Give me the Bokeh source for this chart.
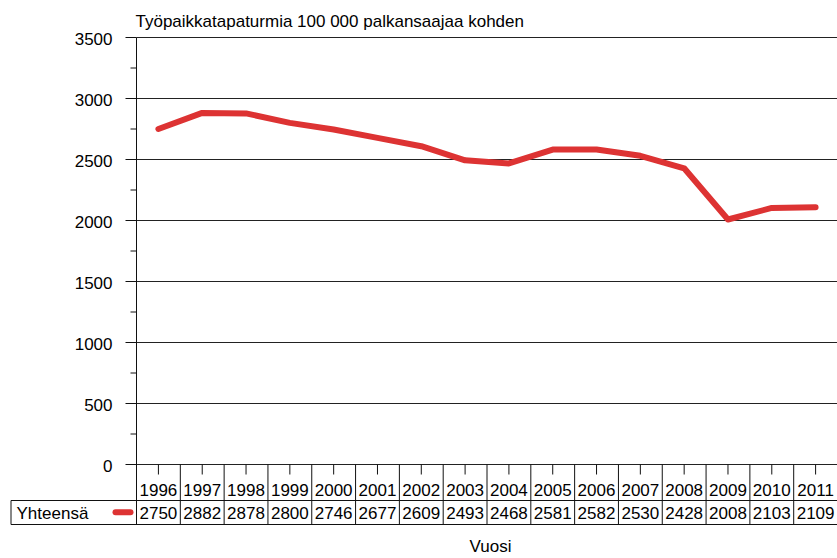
from bokeh.plotting import figure
from bokeh.models import Range1d
from bokeh.core.properties import value
from bokeh.embed import file_html
from bokeh.resources import INLINE

# ---- data ----
years = [1996, 1997, 1998, 1999, 2000, 2001, 2002, 2003, 2004, 2005, 2006, 2007, 2008, 2009, 2010, 2011]
values = [2750, 2882, 2878, 2800, 2746, 2677, 2609, 2493, 2468, 2581, 2582, 2530, 2428, 2008, 2103, 2109]
year_labels = [str(y) for y in years]
value_labels = [str(v) for v in values]
y_ticks = [0, 500, 1000, 1500, 2000, 2500, 3000, 3500]
y_tick_labels = [str(t) for t in y_ticks]
y_minor_ticks = [250, 750, 1250, 1750, 2250, 2750, 3250]
series_name = "Yhteensä"
chart_title = "Työpaikkatapaturmia 100 000 palkansaajaa kohden"
x_title = "Vuosi"

# ---- layout (canvas pixels) ----
W, H = 837, 558
AXL = 136            # x of the value axis (left edge of first year column)
TOP = 37             # y of top value
ZERO = 464           # y of value 0
COLW = 43.8125       # width of one year column
ppu = (ZERO - TOP) / y_ticks[-1]
x0 = years[0] - 0.5


def X(px):
    return x0 + (px - AXL) / COLW


def Y(py):
    return (ZERO - py) / ppu


xr = Range1d(X(0), X(W))
yr = Range1d(Y(H), Y(0))

FONT = "Liberation Sans"
FS = "17px"
RED = "#dd3333"
INK = "#111111"
TXT = dict(text_font=value(FONT), text_font_size=value(FS), text_color="black", text_baseline="middle")

p = figure(width=W, height=H, x_range=xr, y_range=yr, output_backend="svg",
           toolbar_location=None, x_axis_location=None, y_axis_location=None,
           min_border=0, title=None)
p.outline_line_color = None
p.grid.visible = False
p.background_fill_color = "white"
p.border_fill_color = "white"

n = len(y_ticks)
# horizontal grid lines
p.segment(x0=[x0] * n, y0=y_ticks, x1=[X(W)] * n, y1=y_ticks, line_color="#222222", line_width=1)
# value axis line, ticks and labels
p.segment(x0=[x0], y0=[Y(TOP)], x1=[x0], y1=[Y(524)], line_color=INK, line_width=1)
p.segment(x0=[X(125)] * n, y0=y_ticks, x1=[x0] * n, y1=y_ticks, line_color=INK, line_width=1)
m = len(y_minor_ticks)
p.segment(x0=[X(130)] * m, y0=y_minor_ticks, x1=[x0] * m, y1=y_minor_ticks, line_color=INK, line_width=1)
p.text(x=[X(112)] * n, y=y_ticks, text=y_tick_labels, text_align="right", y_offset=1, **TXT)

# data table: column borders, ticks, rows
bounds = [y + 0.5 for y in years[:-1]]
k = len(bounds)
p.segment(x0=bounds, y0=[0] * k, x1=bounds, y1=[Y(524)] * k, line_color=INK, line_width=1)
p.segment(x0=years, y0=[0] * len(years), x1=years, y1=[Y(474)] * len(years), line_color=INK, line_width=1)
p.segment(x0=[X(10.5), X(10.5)], y0=[Y(500), Y(524)], x1=[X(W), X(W)], y1=[Y(500), Y(524)],
          line_color=INK, line_width=1)
p.segment(x0=[X(10.5)], y0=[Y(500)], x1=[X(10.5)], y1=[Y(524)], line_color=INK, line_width=1)

p.text(x=years, y=[Y(489.5)] * len(years), text=year_labels, text_align="center", **TXT)
p.text(x=years, y=[Y(512.5)] * len(years), text=value_labels, text_align="center", **TXT)

# legend cell
p.text(x=[X(16)], y=[Y(512.5)], text=[series_name], text_align="left", **TXT)
p.line(x=[X(115), X(130)], y=[Y(511.7), Y(511.7)], line_color=RED, line_width=6, line_cap="round")

# data line
p.line(years, values, line_color=RED, line_width=6, line_join="round", line_cap="round")

# titles
p.text(x=[X(135)], y=[Y(20.5)], text=[chart_title], text_align="left", **TXT)
p.text(x=[X(490)], y=[Y(546)], text=[x_title], text_align="center", **TXT)

open("out.html", "w").write(file_html(p, INLINE))
